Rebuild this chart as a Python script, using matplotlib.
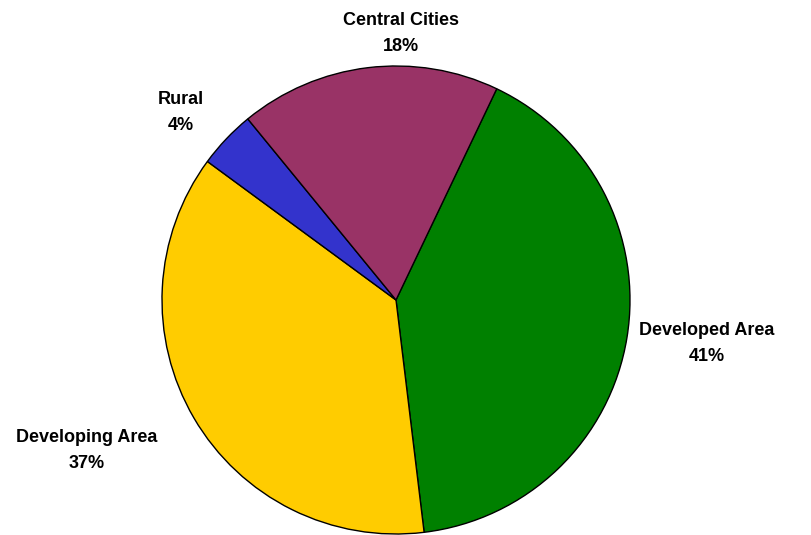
import matplotlib
matplotlib.use("Agg")
import matplotlib.pyplot as plt
import numpy as np

# slice data, clockwise from the top-right
names = ["Developed Area", "Developing Area", "Rural", "Central Cities"]
shares = [41, 37, 4, 18]
pct_labels = ["41%", "37%", "4%", "18%"]
colors = ["#008000", "#FFCC00", "#3333CC", "#993366"]

# label placement: (angle in degrees, distance as a multiple of radius)
label_pos = [(-8, 1.34), (-154, 1.47), (139, 1.22), (89, 1.14)]

W, H = 811, 535
fig = plt.figure(figsize=(W / 100, H / 100), dpi=100)

cx, cy, r = 396, 300, 234
ax = fig.add_axes([(cx - r) / W, (H - cy - r) / H, 2 * r / W, 2 * r / H])

wedges, _ = ax.pie(shares, colors=colors, startangle=64.5, counterclock=False,
                   radius=1.0, center=(0, 0),
                   wedgeprops=dict(edgecolor="black", linewidth=1.0))

for (ang, dist), name, pct in zip(label_pos, names, pct_labels):
    a = np.radians(ang)
    ax.text(dist * np.cos(a), dist * np.sin(a), name + "\n" + pct,
            ha="center", va="center", fontsize=13, fontweight="bold",
            family="Liberation Sans", linespacing=1.7, clip_on=False)

ax.set_xlim(-1, 1)
ax.set_ylim(-1, 1)
ax.set_aspect("auto")
ax.axis("off")

fig.savefig("out.png", dpi=100)
